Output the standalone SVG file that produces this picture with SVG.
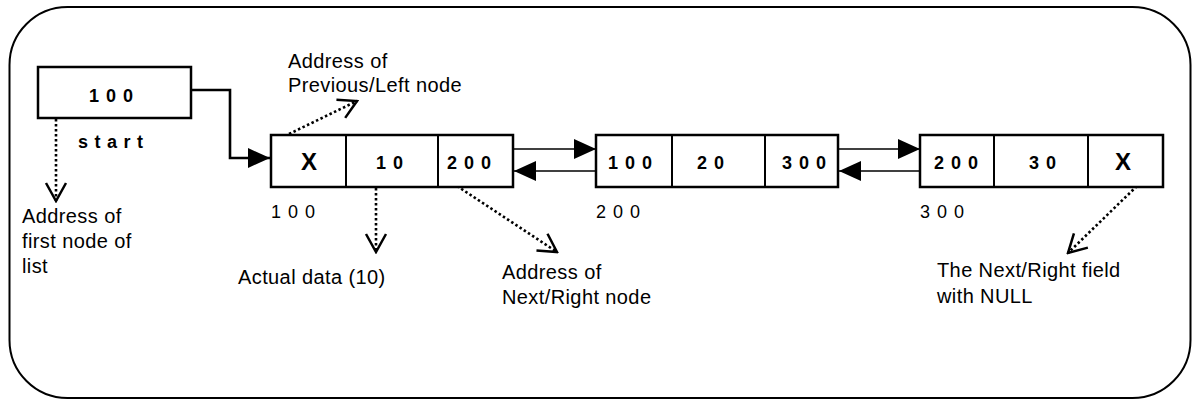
<svg xmlns="http://www.w3.org/2000/svg" width="1192" height="400" viewBox="0 0 1192 400">
<style>
.box{fill:#fff;stroke:#000;stroke-width:2.5}
.div{stroke:#000;stroke-width:2}
.val{font-family:"Liberation Sans",Arial,sans-serif;font-size:18px;font-weight:bold;letter-spacing:7px;fill:#000}
.x{font-family:"Liberation Sans",Arial,sans-serif;font-size:24px;font-weight:bold;fill:#000;text-anchor:middle}
.addr{font-family:"Liberation Sans",Arial,sans-serif;font-size:18px;letter-spacing:7px;fill:#000}
.lbl{font-family:"Liberation Sans",Arial,sans-serif;font-size:20px;letter-spacing:0.4px;fill:#000}
.solid{fill:none;stroke:#000;stroke-width:1.6}
.thick{fill:none;stroke:#000;stroke-width:2.6}
.dot{fill:none;stroke:#000;stroke-width:2.6;stroke-dasharray:2.5 2.5}
</style>
<defs>
<marker id="fa" viewBox="0 0 22 20" refX="22" refY="10" markerWidth="22" markerHeight="20" markerUnits="userSpaceOnUse" orient="auto">
<path d="M0,0 L22,10 L0,20 Z" fill="#000"/>
</marker>
<marker id="oa" viewBox="-2 -1 22 24" refX="18" refY="11" markerWidth="22" markerHeight="24" markerUnits="userSpaceOnUse" orient="auto">
<path d="M0,1 L18,11 L0,21" fill="none" stroke="#000" stroke-width="2.5"/>
</marker>
</defs>
<rect x="9.5" y="7" width="1181" height="391" rx="58" ry="58" fill="#fff" stroke="#000" stroke-width="2"/>

<g id="connectors">
<path class="thick" d="M191,90 H230 V158 H270" marker-end="url(#fa)"/>
<path class="solid" d="M513,149 H596" marker-end="url(#fa)"/>
<path class="solid" d="M596,171 H514" marker-end="url(#fa)"/>
<path class="solid" d="M838,149 H920" marker-end="url(#fa)"/>
<path class="solid" d="M920,171 H839" marker-end="url(#fa)"/>
<path class="dot" d="M56,119 L56,201" marker-end="url(#oa)"/>
<path class="dot" d="M289,134 L357,101" marker-end="url(#oa)"/>
<path class="dot" d="M376,188 L376,252" marker-end="url(#oa)"/>
<path class="dot" d="M457,186 L557,252" marker-end="url(#oa)"/>
<path class="dot" d="M1137,186 L1068,253" marker-end="url(#oa)"/>
</g>

<g id="start">
<rect class="box" x="38" y="67" width="153" height="51"/>
<text class="val" x="89" y="102">100</text>
<text class="val" x="78" y="148" style="letter-spacing:6.5px">start</text>
</g>

<g id="node1">
<rect class="box" x="271" y="135" width="242" height="52"/>
<line class="div" x1="346" y1="135" x2="346" y2="187"/>
<line class="div" x1="438" y1="135" x2="438" y2="187"/>
<text class="x" x="309" y="170">X</text>
<text class="val" x="376" y="169">10</text>
<text class="val" x="447" y="169">200</text>
<text class="addr" x="271" y="218">100</text>
</g>

<g id="node2">
<rect class="box" x="596" y="135" width="242" height="52"/>
<line class="div" x1="672" y1="135" x2="672" y2="187"/>
<line class="div" x1="765" y1="135" x2="765" y2="187"/>
<text class="val" x="608" y="169">100</text>
<text class="val" x="697" y="169">20</text>
<text class="val" x="782" y="169">300</text>
<text class="addr" x="596" y="218">200</text>
</g>

<g id="node3">
<rect class="box" x="920" y="135" width="243" height="52"/>
<line class="div" x1="994" y1="135" x2="994" y2="187"/>
<line class="div" x1="1088" y1="135" x2="1088" y2="187"/>
<text class="val" x="934" y="169">200</text>
<text class="val" x="1029" y="169">30</text>
<text class="x" x="1123" y="170">X</text>
<text class="addr" x="920" y="218">300</text>
</g>

<g id="labels">
<text class="lbl" x="288" y="68">Address of</text>
<text class="lbl" x="288" y="92">Previous/Left node</text>
<text class="lbl" x="22" y="223">Address of</text>
<text class="lbl" x="22" y="248">first node of</text>
<text class="lbl" x="22" y="273">list</text>
<text class="lbl" x="238" y="284">Actual data (10)</text>
<text class="lbl" x="502" y="279">Address of</text>
<text class="lbl" x="502" y="304">Next/Right node</text>
<text class="lbl" x="937" y="277">The Next/Right field</text>
<text class="lbl" x="937" y="303">with NULL</text>
</g>
</svg>
